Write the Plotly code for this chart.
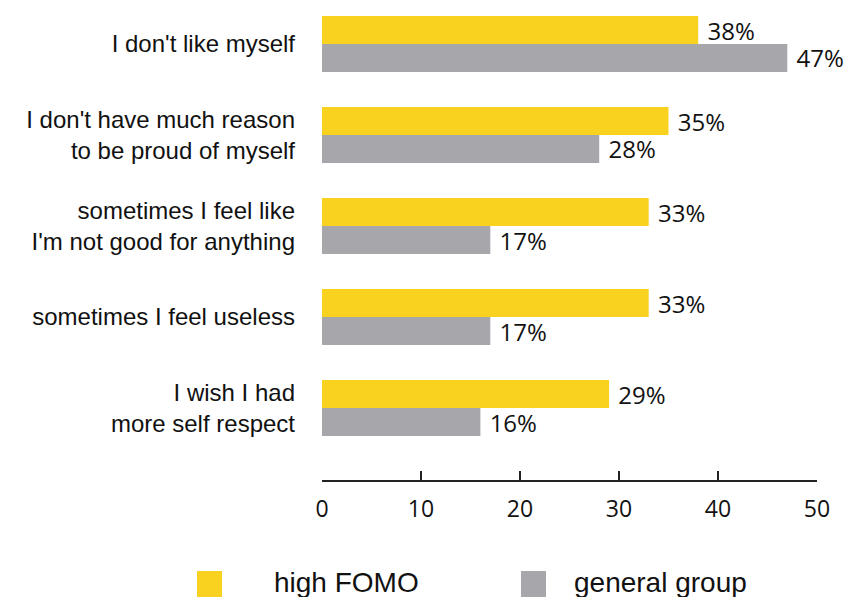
import plotly.graph_objects as go

categories = [
    "I don't like myself",
    "I don't have much reason<br>to be proud of myself",
    "sometimes I feel like<br>I'm not good for anything",
    "sometimes I feel useless",
    "I wish I had<br>more self respect",
]
series_names = ["high FOMO", "general group"]
high_fomo = [38, 35, 33, 33, 29]
general_group = [47, 28, 17, 17, 16]
x_ticks = [0, 10, 20, 30, 40, 50]

colors = ["#F9D220", "#A7A6AA"]

W, H = 846, 597
L, R, T, B = 322, 29, 0, 117
pw, ph = W - L - R, H - T - B

fig = go.Figure()
for name, vals, col in zip(series_names, [high_fomo, general_group], colors):
    fig.add_trace(go.Bar(
        name=name, y=categories, x=vals, orientation="h",
        marker=dict(color=col, line=dict(width=0)),
        text=vals, texttemplate=" %{x}%", textposition="outside",
        textfont=dict(family="Open Sans", size=24, color="#111"),
        constraintext="none", cliponaxis=False, showlegend=False,
    ))

fig.update_layout(
    width=W, height=H, barmode="group", bargap=0.385, bargroupgap=0,
    margin=dict(l=L, r=R, t=T, b=B),
    paper_bgcolor="white", plot_bgcolor="white",
    xaxis=dict(range=[0, 50], tickvals=x_ticks, showgrid=False, zeroline=False,
               showline=True, linecolor="#222", linewidth=2,
               ticks="inside", ticklen=9, tickwidth=2, tickcolor="#222",
               tickfont=dict(family="Open Sans", size=23, color="#111"),
               ticklabelstandoff=7),
    yaxis=dict(categoryorder="array", categoryarray=categories,
               range=[4.791, -0.4835], showgrid=False, zeroline=False,
               showline=False, ticks="",
               tickfont=dict(family="Liberation Sans", size=24, color="#111"),
               ticklabelstandoff=26),
)

def px_x(p):
    return (p - L) / pw

def px_y(p):
    return (T + ph - p) / ph

sw_x = [(197, 222), (521, 546)]
tx_x = [272, 572]
for (x0, x1), tx, name, col in zip(sw_x, tx_x, series_names, colors):
    fig.add_shape(type="rect", xref="paper", yref="paper",
                  x0=px_x(x0), x1=px_x(x1), y0=px_y(571), y1=px_y(597),
                  fillcolor=col, line=dict(width=0))
    fig.add_annotation(xref="paper", yref="paper", x=px_x(tx), y=px_y(582),
                       xanchor="left", yanchor="middle", showarrow=False,
                       text=name, font=dict(family="Liberation Sans", size=28, color="#111"))

fig.write_html("out.html")
